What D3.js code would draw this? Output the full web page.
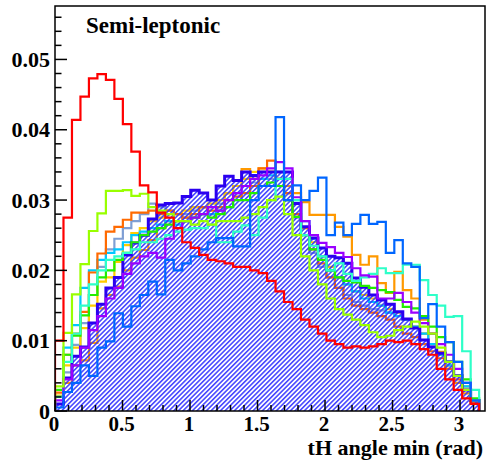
<!DOCTYPE html>
<html>
<head>
<meta charset="utf-8">
<script src="https://cdn.jsdelivr.net/npm/d3@7"></script>
<style>
  body { margin: 0; background: #fff; }
</style>
</head>
<body>
<svg id="chart"></svg>
<script>
var width = 489;
var height = 466;
var serif = "'Liberation Serif', 'Times New Roman', Times, 'DejaVu Serif', serif";

// 50 bins from 0 to pi
var nBins = 50;
var binW = Math.PI / nBins;

var red       = [0.0100,0.0275,0.0414,0.0447,0.0473,0.0479,0.0471,0.0444,0.0408,0.0369,0.0321,0.0311,0.0282,0.0275,0.0260,0.0240,0.0232,0.0222,0.0215,0.0213,0.0210,0.0205,0.0205,0.0200,0.0196,0.0185,0.0170,0.0155,0.0145,0.0130,0.0120,0.0110,0.0100,0.0095,0.0090,0.0092,0.0090,0.0092,0.0095,0.0100,0.0098,0.0100,0.0095,0.0088,0.0080,0.0060,0.0045,0.0030,0.0018,0.0010];
var chartreuse = [0.0035,0.0111,0.0166,0.0209,0.0256,0.0281,0.0313,0.0313,0.0314,0.0306,0.0309,0.0290,0.0285,0.0280,0.0270,0.0270,0.0265,0.0270,0.0265,0.0270,0.0270,0.0270,0.0275,0.0280,0.0290,0.0300,0.0305,0.0280,0.0250,0.0220,0.0200,0.0180,0.0160,0.0145,0.0137,0.0130,0.0122,0.0112,0.0105,0.0107,0.0115,0.0120,0.0127,0.0120,0.0110,0.0090,0.0070,0.0050,0.0030,0.0015];
var orangeRed = [0.0026,0.0080,0.0110,0.0141,0.0197,0.0224,0.0255,0.0262,0.0272,0.0282,0.0282,0.0285,0.0280,0.0285,0.0280,0.0275,0.0280,0.0290,0.0285,0.0290,0.0300,0.0305,0.0310,0.0320,0.0345,0.0356,0.0330,0.0310,0.0280,0.0260,0.0230,0.0210,0.0190,0.0175,0.0160,0.0150,0.0145,0.0140,0.0135,0.0130,0.0120,0.0110,0.0105,0.0095,0.0085,0.0075,0.0060,0.0045,0.0030,0.0012];
var orange    = [0.0020,0.0040,0.0065,0.0072,0.0097,0.0146,0.0165,0.0177,0.0200,0.0218,0.0229,0.0243,0.0260,0.0270,0.0270,0.0275,0.0290,0.0290,0.0280,0.0290,0.0310,0.0320,0.0344,0.0330,0.0340,0.0340,0.0330,0.0320,0.0310,0.0297,0.0279,0.0279,0.0279,0.0262,0.0248,0.0222,0.0208,0.0220,0.0182,0.0168,0.0198,0.0172,0.0160,0.0130,0.0110,0.0084,0.0060,0.0040,0.0025,0.0010];
var gold      = [0.0022,0.0065,0.0090,0.0118,0.0150,0.0184,0.0190,0.0212,0.0236,0.0253,0.0260,0.0270,0.0275,0.0280,0.0280,0.0285,0.0290,0.0290,0.0295,0.0300,0.0310,0.0320,0.0330,0.0340,0.0345,0.0340,0.0330,0.0310,0.0280,0.0260,0.0240,0.0220,0.0205,0.0190,0.0180,0.0170,0.0165,0.0160,0.0150,0.0145,0.0140,0.0130,0.0120,0.0110,0.0095,0.0080,0.0065,0.0050,0.0035,0.0015];
var steel     = [0.0020,0.0055,0.0094,0.0125,0.0165,0.0205,0.0230,0.0245,0.0260,0.0270,0.0280,0.0295,0.0290,0.0285,0.0280,0.0280,0.0285,0.0290,0.0290,0.0295,0.0300,0.0310,0.0320,0.0325,0.0330,0.0330,0.0320,0.0300,0.0275,0.0250,0.0225,0.0205,0.0190,0.0175,0.0165,0.0155,0.0150,0.0145,0.0143,0.0140,0.0135,0.0130,0.0120,0.0110,0.0095,0.0080,0.0065,0.0050,0.0035,0.0015];
var sky       = [0.0020,0.0090,0.0122,0.0175,0.0200,0.0215,0.0225,0.0230,0.0240,0.0250,0.0255,0.0260,0.0265,0.0270,0.0265,0.0270,0.0275,0.0280,0.0280,0.0285,0.0290,0.0300,0.0310,0.0320,0.0330,0.0335,0.0340,0.0330,0.0300,0.0270,0.0245,0.0220,0.0200,0.0190,0.0180,0.0170,0.0160,0.0155,0.0150,0.0140,0.0135,0.0130,0.0120,0.0110,0.0095,0.0080,0.0065,0.0050,0.0035,0.0015];
var aqua      = [0.0020,0.0070,0.0110,0.0150,0.0180,0.0200,0.0215,0.0220,0.0225,0.0230,0.0240,0.0240,0.0245,0.0250,0.0255,0.0258,0.0260,0.0260,0.0265,0.0240,0.0240,0.0255,0.0264,0.0250,0.0275,0.0300,0.0330,0.0330,0.0300,0.0250,0.0235,0.0220,0.0200,0.0210,0.0195,0.0185,0.0190,0.0195,0.0203,0.0196,0.0196,0.0208,0.0208,0.0186,0.0165,0.0150,0.0134,0.0135,0.0085,0.0030];
var green     = [0.0030,0.0080,0.0107,0.0136,0.0165,0.0190,0.0200,0.0215,0.0225,0.0240,0.0250,0.0255,0.0260,0.0265,0.0270,0.0270,0.0275,0.0280,0.0275,0.0280,0.0290,0.0300,0.0300,0.0310,0.0320,0.0325,0.0320,0.0300,0.0276,0.0250,0.0230,0.0215,0.0200,0.0190,0.0185,0.0183,0.0178,0.0175,0.0172,0.0169,0.0158,0.0148,0.0146,0.0135,0.0120,0.0105,0.0098,0.0070,0.0045,0.0018];
var violet    = [0.0015,0.0045,0.0065,0.0090,0.0115,0.0135,0.0160,0.0175,0.0195,0.0210,0.0220,0.0225,0.0218,0.0245,0.0260,0.0270,0.0275,0.0280,0.0290,0.0285,0.0300,0.0310,0.0320,0.0330,0.0335,0.0345,0.0354,0.0345,0.0304,0.0270,0.0250,0.0239,0.0233,0.0225,0.0219,0.0203,0.0193,0.0191,0.0160,0.0160,0.0168,0.0155,0.0140,0.0125,0.0110,0.0095,0.0080,0.0060,0.0040,0.0015];
var azure     = [0.0005,0.0027,0.0040,0.0065,0.0050,0.0090,0.0099,0.0139,0.0120,0.0149,0.0165,0.0184,0.0166,0.0215,0.0200,0.0210,0.0220,0.0230,0.0240,0.0246,0.0246,0.0234,0.0234,0.0300,0.0320,0.0320,0.0418,0.0300,0.0321,0.0300,0.0313,0.0332,0.0250,0.0268,0.0250,0.0266,0.0279,0.0266,0.0269,0.0225,0.0243,0.0210,0.0205,0.0132,0.0152,0.0120,0.0098,0.0070,0.0040,0.0015];
var darkBlue  = [0.0010,0.0047,0.0078,0.0091,0.0125,0.0152,0.0175,0.0190,0.0222,0.0239,0.0250,0.0273,0.0293,0.0295,0.0296,0.0305,0.0314,0.0310,0.0300,0.0320,0.0334,0.0328,0.0340,0.0335,0.0340,0.0340,0.0340,0.0340,0.0295,0.0262,0.0246,0.0232,0.0220,0.0218,0.0210,0.0189,0.0176,0.0165,0.0158,0.0152,0.0141,0.0131,0.0118,0.0101,0.0091,0.0082,0.0070,0.0050,0.0030,0.0015];

var yTickLabels = ['0', '0.01', '0.02', '0.03', '0.04', '0.05'];
var xTickLabels = ['0', '0.5', '1', '1.5', '2', '2.5', '3'];

// draw order: first ones end up underneath
var series = [
  {v: steel,      color: '#7f9fd4', w: 2.2},
  {v: orange,     color: '#ff9900', w: 2.2},
  {v: gold,       color: '#ffcc00', w: 2.2},
  {v: sky,        color: '#00c8ff', w: 2.2},
  {v: orangeRed,  color: '#ff6a00', w: 2.2},
  {v: darkBlue,   color: '#2a00f0', w: 3.0, hatch: true},
  {v: green,      color: '#22ee00', w: 2.2},
  {v: aqua,       color: '#2effc8', w: 2.2},
  {v: violet,     color: '#9a00ff', w: 2.2},
  {v: chartreuse, color: '#99ff00', w: 2.2},
  {v: azure,      color: '#0066ff', w: 2.2},
  {v: red,        color: '#ff0000', w: 2.2}
];

var margin = {left: 55, right: 4, top: 6, bottom: 55};

var svg = d3.select('#chart')
    .attr('width', width)
    .attr('height', height);

svg.append('rect').attr('width', width).attr('height', height).attr('fill', '#fff');

var x = d3.scaleLinear()
    .domain([0, 3.185])
    .range([margin.left, width - margin.right]);

var y = d3.scaleLinear()
    .domain([0, 0.0576])
    .range([height - margin.bottom, margin.top]);

var defs = svg.append('defs');
var pat = defs.append('pattern')
    .attr('id', 'hatch')
    .attr('patternUnits', 'userSpaceOnUse')
    .attr('width', 3.3)
    .attr('height', 3.3)
    .attr('patternTransform', 'rotate(45)');
pat.append('line')
    .attr('x1', 0.8).attr('y1', 0)
    .attr('x2', 0.8).attr('y2', 3.3)
    .attr('stroke', '#3030ff')
    .attr('stroke-width', 1.4);

defs.append('clipPath').attr('id', 'frame')
  .append('rect')
    .attr('x', x(0)).attr('y', y.range()[1])
    .attr('width', x.range()[1] - x(0))
    .attr('height', y(0) - y.range()[1]);

function stepPoints(vals) {
  var pts = [[0, 0]];
  vals.forEach(function(v, i) {
    pts.push([i * binW, v]);
    pts.push([(i + 1) * binW, v]);
  });
  pts.push([nBins * binW, 0]);
  return pts;
}

var line = d3.line()
    .x(function(d) { return x(d[0]); })
    .y(function(d) { return y(d[1]); });

var g = svg.append('g').attr('clip-path', 'url(#frame)');

series.forEach(function(s) {
  var pts = stepPoints(s.v);
  if (s.hatch) {
    g.append('path')
        .attr('d', line(pts) + 'Z')
        .attr('fill', 'url(#hatch)')
        .attr('stroke', 'none');
  }
  g.append('path')
      .attr('d', line(pts))
      .attr('fill', 'none')
      .attr('stroke', s.color)
      .attr('stroke-width', s.w)
      .attr('stroke-linejoin', 'miter');
});

// frame
svg.append('rect')
    .attr('x', x(0)).attr('y', y.range()[1])
    .attr('width', x.range()[1] - x(0))
    .attr('height', y(0) - y.range()[1])
    .attr('fill', 'none')
    .attr('stroke', '#000')
    .attr('stroke-width', 1.5);

// y ticks
var yMinor = d3.range(0, 0.0576, 0.002);
svg.append('g').selectAll('line')
    .data(yMinor)
    .enter().append('line')
    .attr('x1', x(0)).attr('x2', function(d, i) { return x(0) + (i % 5 === 0 ? 12 : 6.5); })
    .attr('y1', function(d) { return y(d); })
    .attr('y2', function(d) { return y(d); })
    .attr('stroke', '#000').attr('stroke-width', 1.5);

svg.append('g').selectAll('text')
    .data(yTickLabels)
    .enter().append('text')
    .attr('x', 50)
    .attr('y', function(d) { return y(+d) + 7.5; })
    .attr('text-anchor', 'end')
    .attr('font-family', serif)
    .attr('font-weight', 'bold')
    .attr('font-size', 22)
    .text(function(d) { return d; });

// x ticks
var xMinor = d3.range(0, 3.15, 0.1);
svg.append('g').selectAll('line')
    .data(xMinor)
    .enter().append('line')
    .attr('x1', function(d) { return x(d); })
    .attr('x2', function(d) { return x(d); })
    .attr('y1', y(0))
    .attr('y2', function(d, i) { return y(0) - (i % 5 === 0 ? 11 : 6); })
    .attr('stroke', '#000').attr('stroke-width', 1.5);

svg.append('g').selectAll('text')
    .data(xTickLabels)
    .enter().append('text')
    .attr('x', function(d) { return x(+d) - 1; })
    .attr('y', 430.5)
    .attr('text-anchor', 'middle')
    .attr('font-family', serif)
    .attr('font-weight', 'bold')
    .attr('font-size', 21)
    .text(function(d) { return d; });

svg.append('text')
    .attr('x', 483)
    .attr('y', 455)
    .attr('text-anchor', 'end')
    .attr('font-family', serif)
    .attr('font-weight', 'bold')
    .attr('font-size', 22)
    .text('tH angle min (rad)');

svg.append('text')
    .attr('x', 86)
    .attr('y', 33)
    .attr('font-family', serif)
    .attr('font-weight', 'bold')
    .attr('font-size', 23)
    .text('Semi-leptonic');
</script>
</body>
</html>
